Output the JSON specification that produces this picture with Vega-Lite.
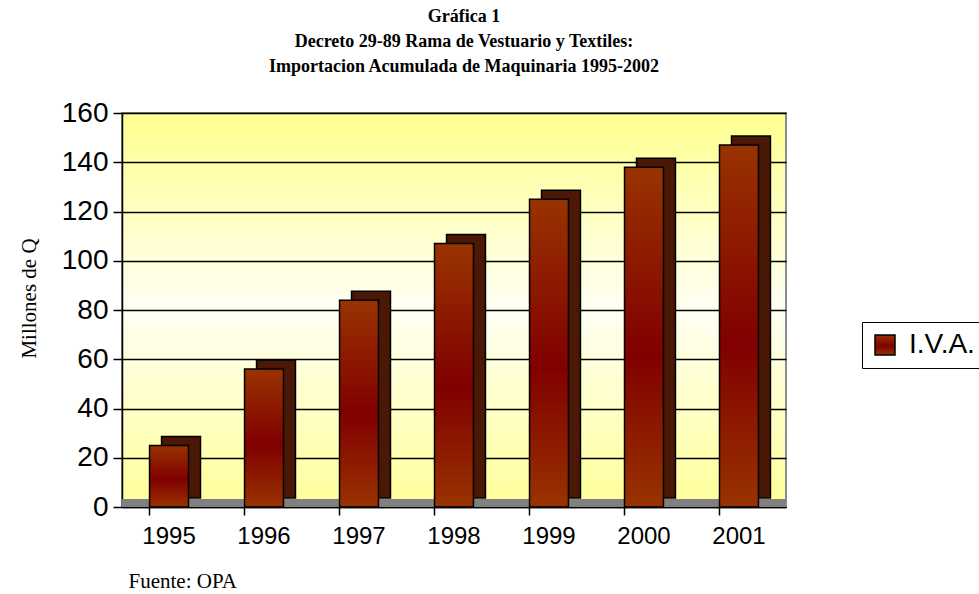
{
  "$schema": "https://vega.github.io/schema/vega-lite/v6.json",
  "autosize": {"type": "none"},
  "width": 664,
  "height": 394,
  "padding": {"left": 122, "top": 113, "right": 193, "bottom": 87},
  "background": "white",
  "title": {
    "text": ["Gráfica 1", "Decreto 29-89 Rama de Vestuario y Textiles:", "Importacion Acumulada de Maquinaria 1995-2002"],
    "font": "Liberation Serif",
    "fontSize": 18,
    "fontWeight": "bold",
    "color": "black",
    "lineHeight": 25,
    "anchor": "middle",
    "dx": 10,
    "offset": 23
  },
  "data": {
    "values": [
      {"year": "1995", "value": 25, "serie": "I.V.A."},
      {"year": "1996", "value": 56, "serie": "I.V.A."},
      {"year": "1997", "value": 84, "serie": "I.V.A."},
      {"year": "1998", "value": 107, "serie": "I.V.A."},
      {"year": "1999", "value": 125, "serie": "I.V.A."},
      {"year": "2000", "value": 138, "serie": "I.V.A."},
      {"year": "2001", "value": 147, "serie": "I.V.A."}
    ]
  },
  "config": {
    "view": {
      "fill": {"gradient": "linear", "x1": 0, "y1": 0, "x2": 0, "y2": 1,
        "stops": [{"offset": 0, "color": "#FFFF8F"}, {"offset": 0.5, "color": "#FFFFF4"}, {"offset": 1, "color": "#FFFF99"}]},
      "stroke": "#8c8c8c",
      "strokeWidth": 2
    },
    "axis": {"labelFont": "Liberation Sans", "labelColor": "black", "tickColor": "black", "domainColor": "black", "domainWidth": 1.5, "tickWidth": 1.5}
  },
  "encoding": {
    "x": {
      "field": "year", "type": "nominal",
      "scale": {"paddingInner": 0.59, "paddingOuter": 0.29},
      "axis": {
        "labelAngle": 0, "labelFontSize": 24, "tickSize": 8, "labelPadding": 9, "bandPosition": 0,
        "title": "Fuente: OPA", "titleFont": "Liberation Serif", "titleFontSize": 21, "titleFontWeight": "normal",
        "titleColor": "black", "titleAnchor": "start", "titleAlign": "left", "titleBaseline": "alphabetic",
        "titleX": 6, "titleY": 80, "grid": false
      }
    },
    "y": {
      "field": "value", "type": "quantitative",
      "scale": {"domain": [0, 160], "nice": false},
      "axis": {
        "values": [0, 20, 40, 60, 80, 100, 120, 140, 160],
        "labelFontSize": 28, "tickSize": 9, "labelPadding": 5, "grid": true, "gridColor": "black", "gridWidth": 1.5,
        "title": "Millones de Q", "titleFont": "Liberation Serif", "titleFontSize": 21, "titleFontWeight": "normal",
        "titleColor": "black", "titlePadding": 22, "titleY": 185
      }
    }
  },
  "layer": [
    {
      "mark": {"type": "rule", "color": "#808080", "strokeWidth": 7, "yOffset": -4},
      "encoding": {"x": null, "y": {"datum": 0}}
    },
    {
      "mark": {"type": "bar", "fill": "#4a1805", "stroke": "black", "strokeWidth": 1.5, "xOffset": 12, "yOffset": -9}
    },
    {
      "mark": {
        "type": "bar",
        "fill": {"gradient": "linear", "x1": 0, "y1": 0, "x2": 0, "y2": 1,
          "stops": [{"offset": 0, "color": "#993300"}, {"offset": 0.55, "color": "#800000"}, {"offset": 1, "color": "#993300"}]},
        "strokeWidth": 1.5
      },
      "encoding": {
        "stroke": {
          "field": "serie", "type": "nominal",
          "scale": {"range": ["black"]},
          "legend": {
            "title": null, "orient": "none", "legendX": 740, "legendY": 209,
            "labelFont": "Liberation Sans", "labelFontSize": 28, "labelColor": "black", "labelOffset": 10,
            "symbolType": "square", "symbolSize": 400, "symbolFillColor": "#993300", "symbolStrokeColor": "black", "symbolStrokeWidth": 1.5,
            "strokeColor": "black", "padding": 9, "cornerRadius": 0, "fillColor": "white"
          }
        }
      }
    }
  ]
}
